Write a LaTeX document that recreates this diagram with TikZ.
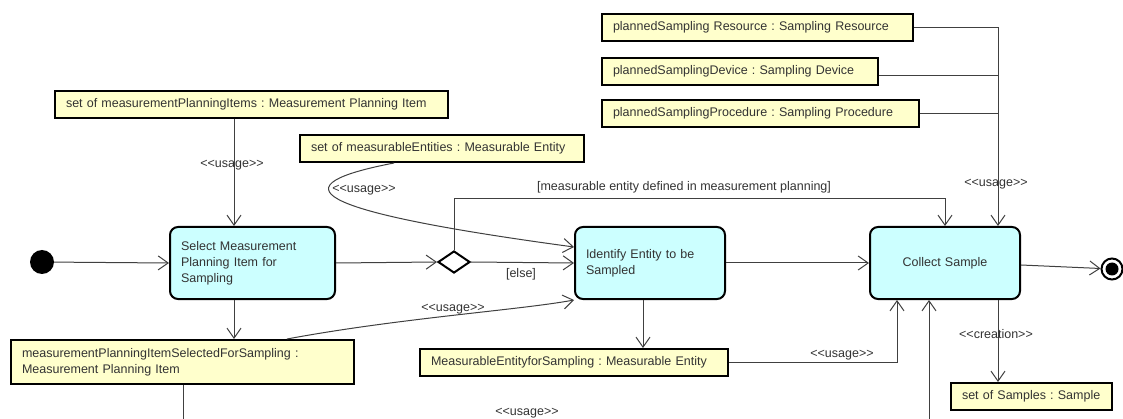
\documentclass[tikz,border=0pt]{standalone}
\usepackage{fontspec}
\setmainfont{Liberation Sans}
\usetikzlibrary{arrows.meta,shapes.geometric,calc}
\definecolor{objfill}{HTML}{FFFFCC}
\definecolor{actfill}{HTML}{CCFFFF}
\definecolor{txt}{HTML}{333333}
\definecolor{lin}{HTML}{404040}
\newcommand\stereo[1]{\mbox{<}\mbox{<}#1\mbox{>}\mbox{>}}
\frenchspacing
\hyphenpenalty=10000
\exhyphenpenalty=10000
\begin{document}
\begin{tikzpicture}[x=1pt,y=-1pt,
  font=\fontsize{12.5}{16}\selectfont,
  obj/.style={draw=black, line width=2pt, fill=objfill, text=txt, anchor=north west,
    align=left, inner xsep=11pt, inner ysep=0pt, minimum height=27pt},
  act/.style={draw=black, line width=2pt, fill=actfill, text=txt, rounded corners=8pt,
    anchor=north west, align=left, inner xsep=11pt, inner ysep=0pt, minimum height=72pt},
  conn/.style={draw=lin, line width=1pt, -{Straight Barb[length=10pt,width=14pt]}},
  plain/.style={draw=lin, line width=1pt},
  lbl/.style={text=txt, inner sep=0pt}]
\useasboundingbox (0,0) rectangle (1123,419);
\fill[white] (0,0) rectangle (1123,419);
\clip (0,0) rectangle (1123,419);

% object nodes
\node[obj, text width=371pt] (mpi) at (54,90) {set of measurementPlanningItems : Measurement Planning Item};
\node[obj, text width=262pt] (mes) at (299,134) {set of measurableEntities : Measurable Entity};
\node[obj, text width=289pt] (res) at (601,13) {plannedSampling Resource : Sampling Resource};
\node[obj, text width=254pt] (dev) at (601,57) {plannedSamplingDevice : Sampling Device};
\node[obj, text width=295pt] (proc) at (601,99) {plannedSamplingProcedure : Sampling Procedure};
\node[obj, text width=139pt] (smp) at (950,382) {set of Samples : Sample};
\node[obj, text width=286pt] (mef) at (419,348) {MeasurableEntityforSampling : Measurable Entity};
\node[obj, text width=321pt, minimum height=44pt] (mps) at (10,339) {measurementPlanningItemSelectedForSampling :\\Measurement Planning Item};

% action nodes
\node[act, text width=143pt] (sel) at (169,226) {Select Measurement\\Planning Item for\\Sampling};
\node[act, text width=128pt] (ide) at (574,226) {Identify Entity to be\\Sampled};
\node[act, text width=128pt, align=center] (col) at (869,226) {Collect Sample};

% control nodes
\node[circle, fill=black, minimum size=24pt, inner sep=0pt] (ini) at (42,262) {};
\node[circle, draw=black, line width=2pt, fill=white, minimum size=21pt, inner sep=0pt] (fin) at (1112,269) {};
\node[circle, fill=black, minimum size=13pt, inner sep=0pt] (fininner) at (fin) {};
\node[diamond, draw=black, line width=2pt, fill=white, minimum width=32pt, minimum height=22pt, inner sep=0pt] (dia) at (454,262) {};

\coordinate (cbus) at ([xshift=53pt]col.north);

% control flow
\draw[conn] (ini) -- (sel.west);
\draw[conn] (sel.east) -- (dia.west);
\draw[conn] (dia.east) -- (ide.west);
\draw[conn] (dia.north) |- ($(col.north)+(0,-27)$) -- (col.north);
\draw[conn] (ide.east) -- (col.west);
\draw[conn] ([yshift=-2pt]col.east) -- (fin);

% object flows
\draw[conn] ([xshift=-17.5pt]mpi.south) -- ([xshift=-18.5pt]sel.north);
\draw[conn] ([xshift=-18.5pt]sel.south) -- ([xshift=-18.5pt]sel.south |- mps.north);
\draw[conn] ([xshift=-48pt]mes.south) .. controls (280,185) and (300,210) .. ([yshift=16pt]ide.west);
\draw[conn] ([xshift=104.5pt]mps.north) .. controls (400,318) and (520,310) .. (ide.south west);
\draw[conn] ([xshift=-7pt]ide.south) -- ([xshift=-7pt]ide.south |- mef.north);
\draw[conn] (mef.east) -| ([xshift=-48pt]col.south);
\draw[conn] ([xshift=53pt]col.south) -- ([xshift=53pt]col.south |- smp.north);
\draw[conn] (res.east) -| (cbus);
\draw[plain] ([yshift=-4pt]dev.east) -- ([yshift=-4pt]dev.east -| cbus);
\draw[plain] (proc.east) -- (proc.east -| cbus);
\draw[conn] ([xshift=0.5pt]mps.south) -- ++(0,50) -| ([xshift=-16pt]col.south);

% labels
\node[lbl] (l1) at (232,165) {\stereo{usage}};
\node[lbl] (l2) at (364,190) {\stereo{usage}};
\node[lbl] (l3) at (453,309) {\stereo{usage}};
\node[lbl] (l4) at (842,355) {\stereo{usage}};
\node[lbl] (l5) at (996,184) {\stereo{usage}};
\node[lbl] (l6) at (996,334) {\stereo{creation}};
\node[lbl] (l7) at (527,413) {\stereo{usage}};
\node[lbl] (l8) at (521,274) {[else]};
\node[lbl] (l9) at (684,187) {[measurable entity defined in measurement planning]};
\end{tikzpicture}
\end{document}
